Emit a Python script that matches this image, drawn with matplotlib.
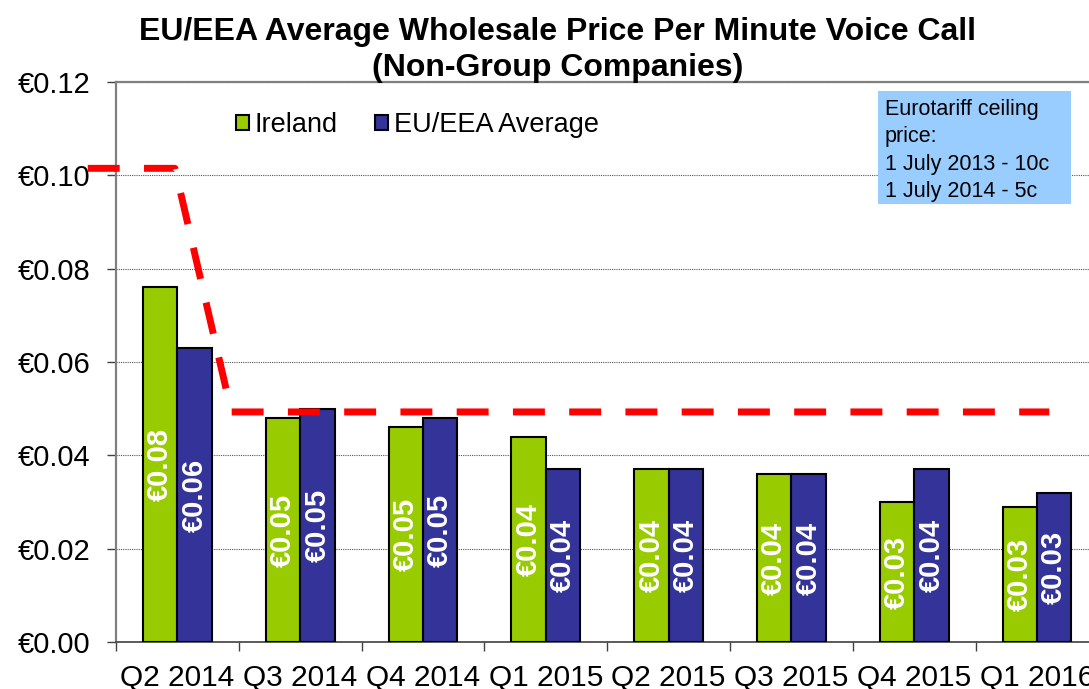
import numpy as np
import matplotlib
matplotlib.use("Agg")
import matplotlib.pyplot as plt
from matplotlib.patches import Rectangle
from matplotlib.ticker import FuncFormatter

plt.rcParams["font.family"] = ["Liberation Sans", "DejaVu Sans"]

# Data
quarters = ["Q2 2014", "Q3 2014", "Q4 2014", "Q1 2015",
            "Q2 2015", "Q3 2015", "Q4 2015", "Q1 2016"]
ireland = [0.076, 0.048, 0.046, 0.044, 0.037, 0.036, 0.030, 0.029]
eu_eea = [0.063, 0.050, 0.048, 0.037, 0.037, 0.036, 0.037, 0.032]
# Eurotariff ceiling line (category units / euro)
ceiling_x = [-0.73, -0.02, 0.44, 7.1]
ceiling_y = [0.1015, 0.1015, 0.0493, 0.0493]
yticks = [0.0, 0.02, 0.04, 0.06, 0.08, 0.10, 0.12]

GREEN = "#99CC00"
BLUE = "#333399"

fig = plt.figure(figsize=(10.89, 6.89), dpi=100)
ax = fig.add_axes([116 / 1089, 1 - 642 / 689, 8 * 122.8 / 1089, 560 / 689])

x = np.arange(len(quarters))
w = 0.28
bars_ie = ax.bar(x - w / 2, ireland, w, color=GREEN, edgecolor="black",
                 linewidth=1.5, label="Ireland", zorder=3)
bars_eu = ax.bar(x + w / 2, eu_eea, w, color=BLUE, edgecolor="black",
                 linewidth=1.5, label="EU/EEA Average", zorder=3)

# Rotated value labels in the middle of each bar
for bars in (bars_ie, bars_eu):
    for b in bars:
        h = b.get_height()
        ax.text(b.get_x() + b.get_width() / 2, h / 2, "€%.2f" % h,
                rotation=90, ha="center", va="center", color="white",
                fontsize=21, fontweight="bold", zorder=4)

ax.plot(ceiling_x, ceiling_y, color="#FF0000", linewidth=5,
        dashes=(4.6, 3.5), clip_on=False, zorder=5, solid_capstyle="butt",
        dash_capstyle="butt")

ax.set_xlim(-0.5, 7.5)
ax.set_ylim(0, 0.12)
ax.set_yticks(yticks)
ax.yaxis.set_major_formatter(FuncFormatter(lambda v, _: "€%.2f" % v))
ax.set_xticks(x)
ax.set_xticklabels(quarters)
ax.set_xticks(np.arange(-0.5, 8.0, 1.0), minor=True)
ax.tick_params(axis="x", which="major", length=0, labelsize=21.5, pad=16)
ax.tick_params(axis="x", which="minor", length=6.5, width=1, color="#404040",
               direction="out")
ax.tick_params(axis="y", length=6.5, width=1, color="#404040", labelsize=21,
               pad=12)

ax.grid(axis="y", color="#555555", linestyle=(0, (1, 1)), linewidth=0.8,
        zorder=0)
ax.set_axisbelow(True)
for side in ("top", "left"):
    ax.spines[side].set_color("#808080")
    ax.spines[side].set_linewidth(1.6)
ax.spines["bottom"].set_color("#404040")
ax.spines["bottom"].set_linewidth(1.2)
ax.spines["right"].set_visible(False)

fig.legend(handles=[bars_ie, bars_eu], loc="center left",
           bbox_to_anchor=(236 / 1089, 1 - 125 / 689), ncol=2,
           frameon=False, fontsize=19.5, borderpad=0, borderaxespad=0,
           handlelength=0.48, handleheight=0.48, handletextpad=0.22,
           columnspacing=1.35)

fig.text(0.512, 1 - 17 / 689,
         "EU/EEA Average Wholesale Price Per Minute Voice Call\n"
         "(Non-Group Companies)",
         ha="center", va="top", fontsize=23, fontweight="bold",
         linespacing=1.25)

# Eurotariff note box
fig.patches.append(Rectangle((878 / 1089, 1 - 204 / 689), 193 / 1089,
                             113 / 689, transform=fig.transFigure,
                             facecolor="#99CCFF", edgecolor="none",
                             zorder=6))
fig.text(885 / 1089, 1 - 99 / 689,
         "Eurotariff ceiling\nprice:\n1 July 2013 - 10c\n1 July 2014 - 5c",
         ha="left", va="top", fontsize=15.5, linespacing=1.4, zorder=7)

fig.savefig("out.png", dpi=100)
